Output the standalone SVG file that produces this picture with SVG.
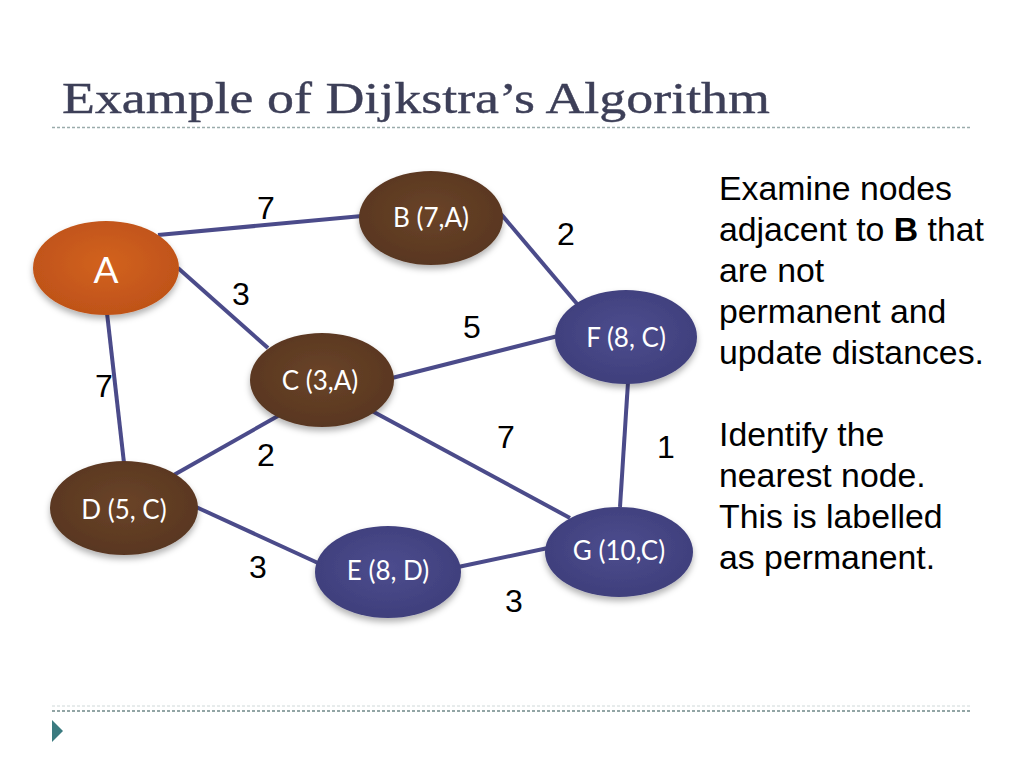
<svg xmlns="http://www.w3.org/2000/svg" width="1024" height="768" viewBox="0 0 1024 768">
<defs>
<radialGradient id="gBrown" cx="50%" cy="45%" r="60%"><stop offset="0" stop-color="#6a4428"/><stop offset="1" stop-color="#573520"/></radialGradient>
<radialGradient id="gBlue" cx="50%" cy="45%" r="60%"><stop offset="0" stop-color="#4c4c8e"/><stop offset="1" stop-color="#3e3e7a"/></radialGradient>
<radialGradient id="gOrange" cx="50%" cy="45%" r="60%"><stop offset="0" stop-color="#d2621f"/><stop offset="1" stop-color="#bd5118"/></radialGradient>
<filter id="sh" x="-20%" y="-20%" width="140%" height="150%"><feDropShadow dx="0" dy="4" stdDeviation="3" flood-color="#000" flood-opacity="0.3"/></filter>
</defs>
<style>
.edge{stroke:#4b4b8a;stroke-width:4;fill:none}
.w{font-family:"Liberation Sans",Arial,sans-serif;font-size:32px;fill:#000;text-anchor:middle}
.nl{font-family:Lato,"Open Sans",sans-serif;font-size:26px;fill:#fff;text-anchor:middle}
.big{font-size:37px}
.body{font-family:"Liberation Sans",Arial,sans-serif;font-size:33.8px;fill:#000}
</style>
<rect width="1024" height="768" fill="#fff"/>
<text x="62" y="113" font-family="Liberation Serif,'DejaVu Serif',serif" font-size="44" fill="#3d3f58" stroke="#3d3f58" stroke-width="0.4" textLength="708" lengthAdjust="spacingAndGlyphs">Example of Dijkstra’s Algorithm</text>
<line x1="52" y1="127.5" x2="972" y2="127.5" stroke="#9aabab" stroke-width="1.5" stroke-dasharray="3,2"/>
<line x1="52" y1="706" x2="972" y2="706" stroke="#cfd8d8" stroke-width="1" stroke-dasharray="3,2"/>
<line x1="52" y1="711" x2="972" y2="711" stroke="#6f8888" stroke-width="1.5" stroke-dasharray="3,2"/>
<polygon points="52,720 63,731 52,742" fill="#3b7b80"/>
<g id="connectors">
<line class="edge" x1="158" y1="235" x2="362" y2="216"/>
<line class="edge" x1="178" y1="268" x2="268" y2="348"/>
<line class="edge" x1="107" y1="313" x2="124" y2="463"/>
<line class="edge" x1="501" y1="214" x2="578" y2="305"/>
<line class="edge" x1="392" y1="378" x2="558" y2="336"/>
<line class="edge" x1="372" y1="411" x2="570" y2="518"/>
<line class="edge" x1="285" y1="412" x2="172" y2="476"/>
<line class="edge" x1="196" y1="507" x2="318" y2="563"/>
<line class="edge" x1="458" y1="567" x2="548" y2="548"/>
<line class="edge" x1="628" y1="382" x2="620" y2="507"/>
<text class="w" x="266" y="219">7</text>
<text class="w" x="566" y="245">2</text>
<text class="w" x="241" y="305">3</text>
<text class="w" x="472" y="338">5</text>
<text class="w" x="104" y="397">7</text>
<text class="w" x="506" y="448">7</text>
<text class="w" x="666" y="458">1</text>
<text class="w" x="266" y="466">2</text>
<text class="w" x="258" y="578">3</text>
<text class="w" x="514" y="612">3</text>
</g>
<g id="node-A"><ellipse cx="106" cy="268" rx="73" ry="47" fill="url(#gOrange)" filter="url(#sh)"/><text class="nl big" x="106" y="283">A</text></g>
<g id="node-B"><ellipse cx="431" cy="218" rx="72" ry="47" fill="url(#gBrown)" filter="url(#sh)"/><text class="nl" x="431" y="227">B (7,A)</text></g>
<g id="node-C"><ellipse cx="322" cy="380" rx="72" ry="47" fill="url(#gBrown)" filter="url(#sh)"/><text class="nl" x="320" y="390">C (3,A)</text></g>
<g id="node-D"><ellipse cx="124" cy="508" rx="74" ry="47" fill="url(#gBrown)" filter="url(#sh)"/><text class="nl" x="124" y="519">D (5, C)</text></g>
<g id="node-E"><ellipse cx="388" cy="572" rx="73" ry="46" fill="url(#gBlue)" filter="url(#sh)"/><text class="nl" x="388" y="580">E (8, D)</text></g>
<g id="node-F"><ellipse cx="626" cy="337" rx="71" ry="47" fill="url(#gBlue)" filter="url(#sh)"/><text class="nl" x="626" y="347">F (8, C)</text></g>
<g id="node-G"><ellipse cx="619" cy="552" rx="74" ry="45" fill="url(#gBlue)" filter="url(#sh)"/><text class="nl" x="619" y="560">G (10,C)</text></g>
<g id="notes">
<text class="body" x="719" y="200">Examine nodes</text>
<text class="body" x="719" y="241">adjacent to <tspan font-weight="bold">B</tspan> that</text>
<text class="body" x="719" y="282">are not</text>
<text class="body" x="719" y="323">permanent and</text>
<text class="body" x="719" y="364">update distances.</text>
<text class="body" x="719" y="446">Identify the</text>
<text class="body" x="719" y="487">nearest node.</text>
<text class="body" x="719" y="528">This is labelled</text>
<text class="body" x="719" y="569">as permanent.</text>
</g>
</svg>
